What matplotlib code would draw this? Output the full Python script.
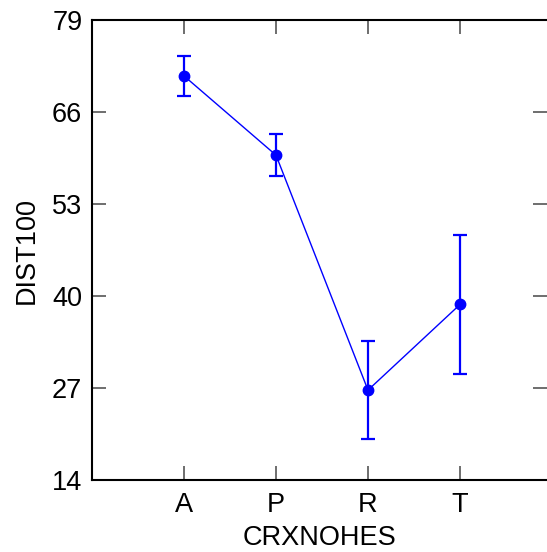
import matplotlib.pyplot as plt

plt.rcParams['font.family'] = ['Liberation Sans', 'DejaVu Sans']

categories = ['A', 'P', 'R', 'T']
means = [71.1, 59.9, 26.7, 38.8]
errors = [2.8, 2.95, 6.9, 9.8]
yticks = [14, 27, 40, 53, 66, 79]

fig = plt.figure(figsize=(5.47, 5.52), dpi=100)
ax = fig.add_axes([92 / 547, 1 - 480 / 552, (547 - 92) / 547, 460 / 552])

x = list(range(1, len(categories) + 1))
ax.errorbar(x, means, yerr=errors, color='#0000ff', marker='o', markersize=7.5,
            linewidth=1, elinewidth=1.6, capsize=5, capthick=1.6)

ax.set_xlim(0, 455 / 92)
ax.set_ylim(14, 79)
ax.set_xticks(x)
ax.set_xticklabels(categories)
ax.set_yticks(yticks)
ax.tick_params(direction='in', length=10, width=1.2, color='#555555',
               labelsize=19.5, top=True, right=True, pad=7)
ax.tick_params(axis='x', pad=9)
for s in ['left', 'bottom', 'top']:
    ax.spines[s].set_linewidth(1.5)
ax.spines['right'].set_visible(False)

ax.set_xlabel('CRXNOHES', fontsize=19.5, labelpad=5)
ax.set_ylabel('DIST100', fontsize=19.5, labelpad=9)

fig.savefig('out.png', dpi=100)
